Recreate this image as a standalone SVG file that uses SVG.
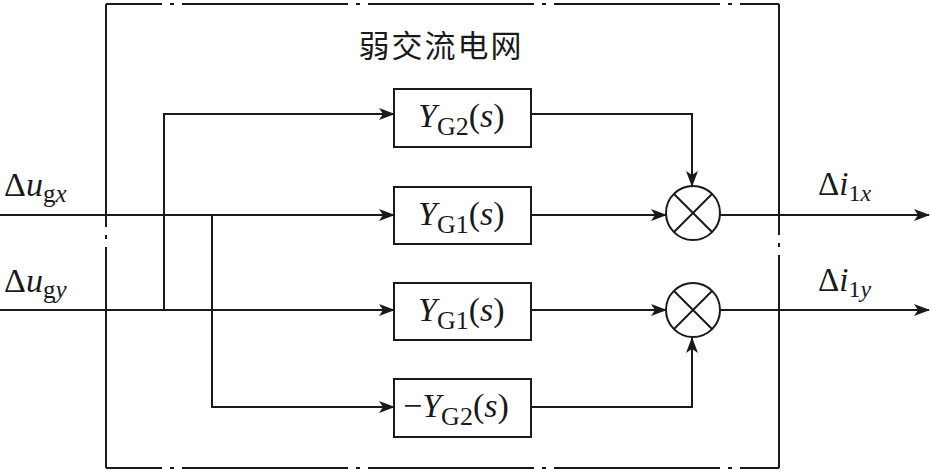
<svg xmlns="http://www.w3.org/2000/svg" width="931" height="472" viewBox="0 0 931 472">
<style>
.ln{stroke:#1a1a1a;stroke-width:2;fill:none}
.bd{stroke:#1a1a1a;stroke-width:2;fill:none;stroke-dasharray:166 8 4 8}
.box{stroke:#1a1a1a;stroke-width:2;fill:#fff}
.t{font-family:"Liberation Serif","Times New Roman",serif;fill:#1a1a1a}
.i{font-style:italic}
.cjk{font-family:"Noto Sans CJK SC",sans-serif;fill:#1a1a1a}
</style>
<defs>
<marker id="ar" markerWidth="16" markerHeight="12" refX="15" refY="6" orient="auto" markerUnits="userSpaceOnUse">
<path d="M0,0 L16,6 L0,12 L4,6 Z" fill="#1a1a1a"/>
</marker>
</defs>
<g id="border">
<line class="bd" x1="106" y1="4" x2="779" y2="4" stroke-dashoffset="110"/>
<line class="bd" x1="106" y1="468" x2="779" y2="468" stroke-dashoffset="110"/>
<line class="bd" x1="106" y1="4" x2="106" y2="468" style="stroke-dasharray:223 8 4 8"/>
<line class="bd" x1="779" y1="4" x2="779" y2="468" style="stroke-dasharray:231 8 4 8"/>
</g>
<text id="title" class="cjk" x="441" y="57" font-size="31" text-anchor="middle" letter-spacing="2">弱交流电网</text>
<g id="connectors">
<line class="ln" x1="0" y1="215" x2="394" y2="215" marker-end="url(#ar)"/>
<line class="ln" x1="0" y1="310" x2="394" y2="310" marker-end="url(#ar)"/>
<polyline class="ln" points="164,310 164,114 394,114" marker-end="url(#ar)"/>
<polyline class="ln" points="212,215 212,407 394,407" marker-end="url(#ar)"/>
<polyline class="ln" points="531,114 692,114 692,186" marker-end="url(#ar)"/>
<polyline class="ln" points="531,407 692,407 692,338" marker-end="url(#ar)"/>
<line class="ln" x1="531" y1="215" x2="666" y2="215" marker-end="url(#ar)"/>
<line class="ln" x1="531" y1="310" x2="666" y2="310" marker-end="url(#ar)"/>
<line class="ln" x1="720" y1="215" x2="929" y2="215" marker-end="url(#ar)"/>
<line class="ln" x1="720" y1="310" x2="929" y2="310" marker-end="url(#ar)"/>
</g>
<g id="box_YG2">
<rect class="box" x="394" y="89" width="137" height="58"/>
<text class="t" x="418" y="127" font-size="34"><tspan class="i">Y</tspan><tspan font-size="26" dy="8">G2</tspan><tspan dy="-8">(</tspan><tspan class="i">s</tspan>)</text>
</g>
<g id="box_YG1a">
<rect class="box" x="394" y="187" width="137" height="57"/>
<text class="t" x="418" y="225" font-size="34"><tspan class="i">Y</tspan><tspan font-size="26" dy="8">G1</tspan><tspan dy="-8">(</tspan><tspan class="i">s</tspan>)</text>
</g>
<g id="box_YG1b">
<rect class="box" x="394" y="283" width="137" height="57"/>
<text class="t" x="418" y="321" font-size="34"><tspan class="i">Y</tspan><tspan font-size="26" dy="8">G1</tspan><tspan dy="-8">(</tspan><tspan class="i">s</tspan>)</text>
</g>
<g id="box_mYG2">
<rect class="box" x="394" y="379" width="137" height="58"/>
<text class="t" x="403" y="417" font-size="34">−<tspan class="i">Y</tspan><tspan font-size="26" dy="8">G2</tspan><tspan dy="-8">(</tspan><tspan class="i">s</tspan>)</text>
</g>
<g id="sum1">
<circle class="box" cx="693" cy="213" r="27"/>
<path class="ln" d="M674,194 L712,232 M712,194 L674,232"/>
</g>
<g id="sum2">
<circle class="box" cx="693" cy="310" r="27"/>
<path class="ln" d="M674,291 L712,329 M712,291 L674,329"/>
</g>
<g id="labels">
<text class="t" x="4" y="196" font-size="34">Δ<tspan class="i">u</tspan><tspan font-size="25" dy="6">g</tspan><tspan class="i" font-size="25">x</tspan></text>
<text class="t" x="4" y="292" font-size="34">Δ<tspan class="i">u</tspan><tspan font-size="25" dy="6">g</tspan><tspan class="i" font-size="25">y</tspan></text>
<text class="t" x="818" y="195" font-size="33">Δ<tspan class="i">i</tspan><tspan font-size="24" dy="6">1</tspan><tspan class="i" font-size="24">x</tspan></text>
<text class="t" x="818" y="291" font-size="33">Δ<tspan class="i">i</tspan><tspan font-size="24" dy="6">1</tspan><tspan class="i" font-size="24">y</tspan></text>
</g>
</svg>
